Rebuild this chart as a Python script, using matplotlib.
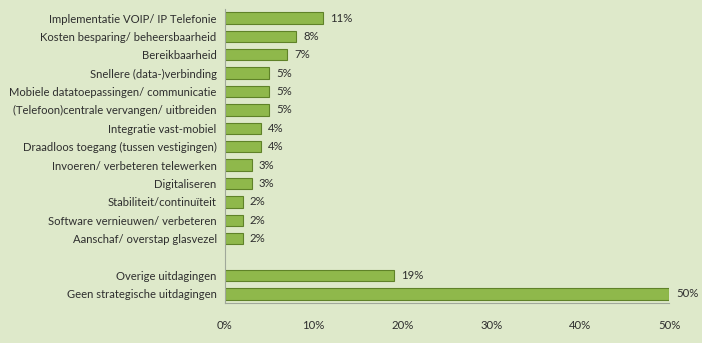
import matplotlib.pyplot as plt
import numpy as np

# === Data ===
categories = [
    "Implementatie VOIP/ IP Telefonie",
    "Kosten besparing/ beheersbaarheid",
    "Bereikbaarheid",
    "Snellere (data-)verbinding",
    "Mobiele datatoepassingen/ communicatie",
    "(Telefoon)centrale vervangen/ uitbreiden",
    "Integratie vast-mobiel",
    "Draadloos toegang (tussen vestigingen)",
    "Invoeren/ verbeteren telewerken",
    "Digitaliseren",
    "Stabiliteit/continuïteit",
    "Software vernieuwen/ verbeteren",
    "Aanschaf/ overstap glasvezel",
    "",
    "Overige uitdagingen",
    "Geen strategische uitdagingen",
]
values = [11, 8, 7, 5, 5, 5, 4, 4, 3, 3, 2, 2, 2, None, 19, 50]
xticks = [0, 10, 20, 30, 40, 50]

bg = "#dee9ca"
bar_color = "#8fb84b"
edge_color = "#5f8228"
text_color = "#2e2e2e"

plt.rcParams["font.family"] = ["Lato", "DejaVu Sans"]

fig = plt.figure(figsize=(7.02, 3.43), dpi=100, facecolor=bg)
ax = fig.add_axes([0.3205, 0.1166, 0.6325, 0.8577])
ax.set_facecolor(bg)

pos = np.arange(len(categories))
for y, v in zip(pos, values):
    if v is None:
        continue
    ax.barh(y, v, height=0.62, color=bar_color, edgecolor=edge_color, linewidth=0.8)
    ax.text(v + 0.8, y, f"{v}%", va="center", ha="left", fontsize=8.2, color=text_color)

ax.set_ylim(len(categories) - 0.5, -0.5)
ax.set_xlim(0, 50)
ax.set_yticks(pos)
ax.set_yticklabels(categories, fontsize=8.1, color=text_color)
ax.set_xticks(xticks)
ax.set_xticklabels([f"{t}%" for t in xticks], fontsize=8.2, color=text_color)
ax.tick_params(axis="both", length=0)
ax.tick_params(axis="y", pad=6)
ax.tick_params(axis="x", pad=12)

for side in ["top", "right"]:
    ax.spines[side].set_visible(False)
for side in ["left", "bottom"]:
    ax.spines[side].set_color("#a0a89a")
    ax.spines[side].set_linewidth(0.8)

fig.savefig("out.png", dpi=100, facecolor=bg)
